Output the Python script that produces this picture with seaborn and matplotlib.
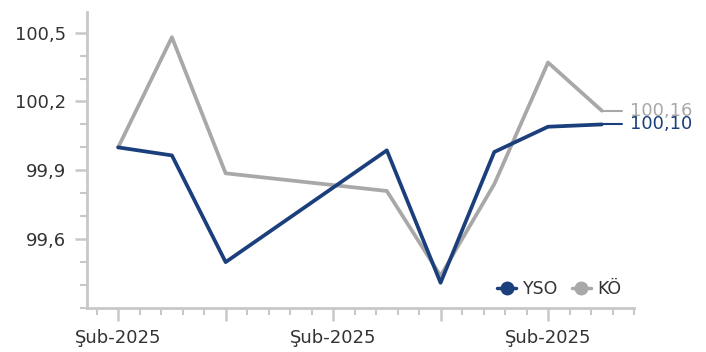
import pandas as pd
import seaborn as sns
import matplotlib.pyplot as plt
from matplotlib.lines import Line2D
from matplotlib.ticker import MultipleLocator, FixedLocator

# Data (positions 3 and 4 have no value)
periods = [0, 1, 2, 5, 6, 7, 8, 9]
yso = [100.00, 99.965, 99.50, 99.987, 99.41, 99.98, 100.09, 100.10]
ko = [100.00, 100.48, 99.887, 99.81, 99.44, 99.84, 100.37, 100.16]
tick_pos = [0, 4, 8]
tick_labels = ["Şub-2025", "Şub-2025", "Şub-2025"]

blue = "#1b3f7c"
gray = "#a8a8a8"
axis_gray = "#c8c8c8"

data = pd.DataFrame({"x": periods + periods,
                     "value": yso + ko,
                     "series": ["YSO"] * len(yso) + ["KÖ"] * len(ko)})

sns.set_style("white")
plt.rcParams['font.family'] = ['DejaVu Sans']

fig = plt.figure(figsize=(7.06, 3.52), dpi=100)
ax = fig.add_axes([87 / 706, 1 - 308 / 352, (634 - 87) / 706, (308 - 12) / 352])

sns.lineplot(data=data, x="x", y="value", hue="series", hue_order=["KÖ", "YSO"],
             palette={"YSO": blue, "KÖ": gray}, linewidth=2.7, legend=False, ax=ax)

# end labels with short leader lines
for vals, col in [(ko, gray), (yso, blue)]:
    last = vals[-1]
    ax.plot([periods[-1], periods[-1] + 0.37], [last, last], color=col, lw=1.5,
            clip_on=False)
    ax.text(periods[-1] + 0.52, last, f"{last:.2f}".replace(".", ","), color=col,
            fontsize=13, va="center", ha="left", clip_on=False)

ax.set_xlim(-0.58, 9.6)
ax.set_ylim(99.3, 100.59)

ax.xaxis.set_major_locator(FixedLocator([0, 2, 4, 6, 8]))
ax.xaxis.set_minor_locator(MultipleLocator(0.4))
ax.set_xticks([0, 2, 4, 6, 8])
ax.set_xticklabels([tick_labels[tick_pos.index(p)] if p in tick_pos else "" for p in [0, 2, 4, 6, 8]])

ax.yaxis.set_major_locator(FixedLocator([99.6, 99.9, 100.2, 100.5]))
ax.yaxis.set_minor_locator(MultipleLocator(0.1))
ax.set_yticklabels(["99,6", "99,9", "100,2", "100,5"])

ax.set_xlabel("")
ax.set_ylabel("")

for side in ["top", "right"]:
    ax.spines[side].set_visible(False)
for side in ["left", "bottom"]:
    ax.spines[side].set_color(axis_gray)
    ax.spines[side].set_linewidth(2)

ax.tick_params(axis="both", which="both", direction="out", color=axis_gray,
               bottom=True, left=True, labelsize=13, labelcolor="#333333")
ax.tick_params(axis="both", which="major", length=9, width=1.8)
ax.tick_params(axis="both", which="minor", length=5, width=1.5)
ax.tick_params(axis="x", which="major", pad=6)
ax.tick_params(axis="y", which="major", pad=6)

handles = [Line2D([0], [0], color=blue, lw=2.5, marker="o", markersize=9),
           Line2D([0], [0], color=gray, lw=2.5, marker="o", markersize=9)]
ax.legend(handles, ["YSO", "KÖ"], loc="lower right", bbox_to_anchor=(1.005, -0.02),
          ncol=2, frameon=False, handlelength=1.1, handletextpad=0.35,
          columnspacing=0.8, fontsize=12.5, labelcolor="#333333")

fig.savefig("out.png", dpi=100)
